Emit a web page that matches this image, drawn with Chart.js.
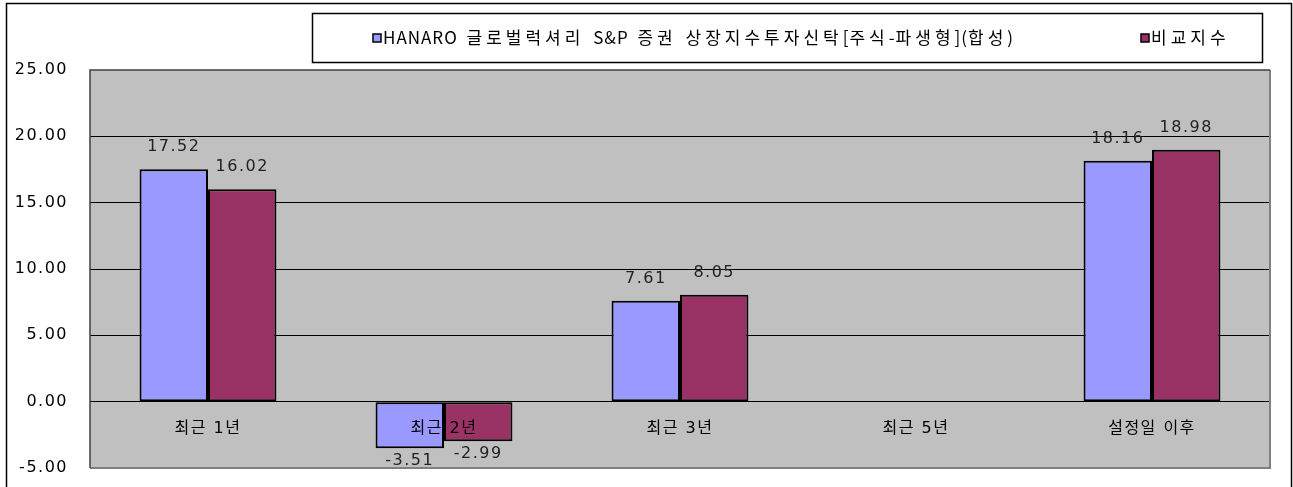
<!DOCTYPE html>
<html>
<head>
<meta charset="utf-8">
<script src="https://cdn.jsdelivr.net/npm/chart.js@4"></script>
<style>
  html, body { margin: 0; padding: 0; background: #fff; }
  #wrap { width: 1293px; height: 487px; }
</style>
</head>
<body>
<div id="wrap"><canvas id="ctx"></canvas></div>
<script>
const categories = ['최근 1년', '최근 2년', '최근 3년', '최근 5년', '설정일 이후'];
const fundLabel = 'HANARO 글로벌럭셔리 S&P 증권 상장지수투자신탁[주식-파생형](합성)';
const benchLabel = '비교지수';
const fundValues = [17.52, -3.51, 7.61, null, 18.16];
const benchValues = [16.02, -2.99, 8.05, null, 18.98];
const yTicks = [-5, 0, 5, 10, 15, 20, 25];

const FONT = '"DejaVu Sans", "Noto Sans CJK KR", sans-serif';

// legend text: wider spacing for Hangul and blanks, tight for Latin
function spacedText(ctx, text, x, y) {
  for (const ch of text) {
    ctx.fillText(ch, x, y);
    let gap = 1;
    if (/[\uac00-\ud7a3]/.test(ch)) gap = 4;
    if (ch === ' ') gap = 5;
    x += ctx.measureText(ch).width + gap;
  }
}

const frame = {
  id: 'frame',
  beforeDraw(chart) {
    const { ctx, chartArea: a } = chart;
    ctx.save();
    ctx.fillStyle = '#fff';
    ctx.fillRect(0, 0, chart.width, chart.height);
    ctx.fillStyle = '#c0c0c0';
    ctx.fillRect(a.left, a.top, a.right - a.left, a.bottom - a.top);
    ctx.restore();
    ctx.letterSpacing = '1.5px';
  },
  afterDraw(chart) {
    const { ctx, chartArea: a } = chart;
    ctx.save();
    // plot border
    ctx.lineWidth = 2;
    ctx.strokeStyle = '#808080';
    ctx.beginPath();
    ctx.moveTo(a.right, a.top);
    ctx.lineTo(a.right, a.bottom);
    ctx.lineTo(a.left, a.bottom);
    ctx.stroke();
    ctx.lineWidth = 1.5;
    ctx.strokeStyle = '#404040';
    ctx.beginPath();
    ctx.moveTo(a.left, a.bottom);
    ctx.lineTo(a.left, a.top);
    ctx.lineTo(a.right, a.top);
    ctx.stroke();
    // outer frame
    ctx.strokeStyle = '#000';
    ctx.strokeRect(6.5, 3.5, 1285, 500);
    // legend box
    ctx.strokeRect(312.5, 13.5, 950, 49);
    const items = [
      { x: 373, ds: chart.data.datasets[0] },
      { x: 1141, ds: chart.data.datasets[1] }
    ];
    ctx.font = '17px "Noto Sans CJK KR", sans-serif';
    ctx.letterSpacing = '0px';
    ctx.textBaseline = 'middle';
    ctx.textAlign = 'left';
    items.forEach(it => {
      ctx.fillStyle = it.ds.backgroundColor;
      ctx.fillRect(it.x, 34, 8, 8);
      ctx.strokeStyle = '#000';
      ctx.strokeRect(it.x, 34, 8, 8);
      ctx.fillStyle = '#000';
      spacedText(ctx, it.ds.label, it.x + 10, 38);
    });
    ctx.restore();
  },
  afterDatasetsDraw(chart) {
    const { ctx } = chart;
    ctx.save();
    ctx.font = '16px ' + FONT;
    ctx.letterSpacing = '1.5px';
    ctx.fillStyle = '#222';
    ctx.textAlign = 'center';
    ctx.textBaseline = 'middle';
    chart.data.datasets.forEach((ds, i) => {
      chart.getDatasetMeta(i).data.forEach((bar, j) => {
        const v = ds.data[j];
        if (v === null) return;
        const y = v >= 0 ? bar.y - 22 : bar.y + 13;
        ctx.fillText(v.toFixed(2), bar.x, y);
      });
    });
    ctx.restore();
  }
};

new Chart(document.getElementById('ctx'), {
  type: 'bar',
  data: {
    labels: categories,
    datasets: [{
      label: fundLabel,
      data: fundValues,
      backgroundColor: '#9999ff',
      borderColor: '#000',
      borderWidth: 2,
      borderSkipped: false
    }, {
      label: benchLabel,
      data: benchValues,
      backgroundColor: '#993366',
      borderColor: '#000',
      borderWidth: 2,
      borderSkipped: false
    }]
  },
  options: {
    responsive: true,
    maintainAspectRatio: false,
    animation: false,
    barPercentage: 1,
    categoryPercentage: 0.58,
    layout: { padding: { top: 70, right: 23, bottom: 19, left: 0 } },
    plugins: {
      legend: { display: false },
      tooltip: { enabled: false }
    },
    scales: {
      x: {
        position: { y: 0 },
        afterFit(scale) { scale.height = 0; },
        grid: { display: false },
        border: { display: false },
        ticks: { z: 1, autoSkip: false, maxRotation: 0, color: '#000', font: { family: FONT, size: 16 }, padding: 10 }
      },
      y: {
        min: -5,
        max: 25,
        afterBuildTicks(scale) { scale.ticks = yTicks.map(v => ({ value: v })); },
        afterFit(scale) { scale.width = 90; },
        grid: {
          drawTicks: true,
          tickLength: 22,
          tickColor: 'rgba(0,0,0,0)',
          color: c => (c.tick && (c.tick.value === 25 || c.tick.value === -5)) ? 'rgba(0,0,0,0)' : '#000',
          lineWidth: 1
        },
        border: { display: false },
        ticks: {
          color: '#000',
          padding: 0,
          font: { family: FONT, size: 16 },
          callback: v => Number(v).toFixed(2)
        }
      }
    }
  },
  plugins: [frame]
});
</script>
</body>
</html>
